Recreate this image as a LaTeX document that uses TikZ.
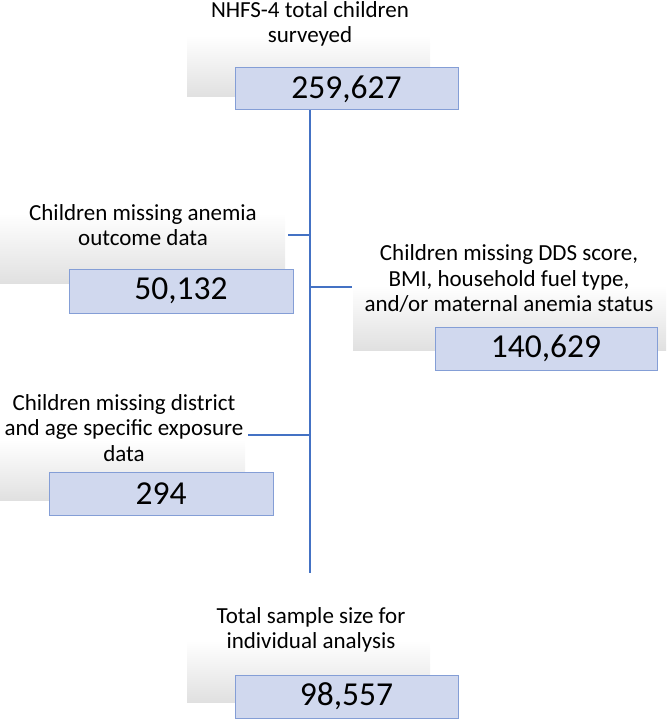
\documentclass[tikz,border=0pt]{standalone}
\usepackage{fontspec}
\setmainfont{Carlito}
\usetikzlibrary{positioning}
\definecolor{fBlue}{RGB}{68,114,196}
\definecolor{fFill}{RGB}{208,216,238}
\definecolor{fEdge}{RGB}{132,158,214}

\tikzset{
  grayback/.style={inner sep=0pt, top color=white, bottom color=black!12},
  numbox/.style={draw=fEdge, line width=1pt, fill=fFill, inner sep=0pt,
    font=\fontsize{33.5}{36}\selectfont, text=black},
  lbl/.style={align=center, inner sep=0pt, text=black,
    font=\fontsize{23}{25.5}\selectfont},
  link/.style={draw=fBlue, line width=1.1pt}
}

\begin{document}
\begin{tikzpicture}[x=1pt, y=-1pt]
  \useasboundingbox (0,0) rectangle (666,719);

  % Top: surveyed
  \node[grayback, minimum width=243pt, minimum height=62pt] (g0) at (308.5,66) {};
  \node[lbl] (t0) at (310,24) {NHFS-4 total children\\surveyed};
  \node[numbox, minimum width=223pt, minimum height=42pt] (n0) at (346.5,89) {259,627};

  % Left: anemia outcome
  \node[grayback, minimum width=285pt, minimum height=70pt] (g1) at (142.5,248) {};
  \node[lbl] (t1) at (143,225) {Children missing anemia\\outcome data};
  \node[numbox, minimum width=224pt, minimum height=44pt] (n1) at (181,291) {50,132};

  % Right: DDS, BMI, fuel, maternal anemia
  \node[grayback, minimum width=313pt, minimum height=65pt] (g2) at (509.5,317.5) {};
  \node[lbl] (t2) at (509,279) {Children missing DDS score,\\BMI, household fuel type,\\and/or maternal anemia status};
  \node[numbox, minimum width=222pt, minimum height=43pt] (n2) at (546,348.5) {140,629};

  % Left: district and age exposure
  \node[grayback, minimum width=245pt, minimum height=60pt] (g3) at (122.5,470) {};
  \node[lbl] (t3) at (124,428) {Children missing district\\and age specific exposure\\data};
  \node[numbox, minimum width=224pt, minimum height=43pt] (n3) at (161,493.5) {294};

  % Bottom: final sample
  \node[grayback, minimum width=243pt, minimum height=62pt] (g4) at (308.5,671) {};
  \node[lbl] (t4) at (311,630) {Total sample size for\\individual analysis};
  \node[numbox, minimum width=223pt, minimum height=43pt] (n4) at (346.5,696.5) {98,557};

  % Trunk + branches
  \coordinate (tEnd) at (310,573);
  \coordinate (b1) at (310,235);
  \coordinate (b2) at (310,287);
  \coordinate (b3) at (310,435);
  \draw[link] (n0.south -| tEnd) -- (tEnd);
  \draw[link, shorten >=3pt] (b1) -- (b1 -| g1.east);
  \draw[link, shorten >=1pt] (b2) -- (b2 -| g2.west);
  \draw[link, shorten >=3pt] (b3) -- (b3 -| g3.east);
\end{tikzpicture}
\end{document}
